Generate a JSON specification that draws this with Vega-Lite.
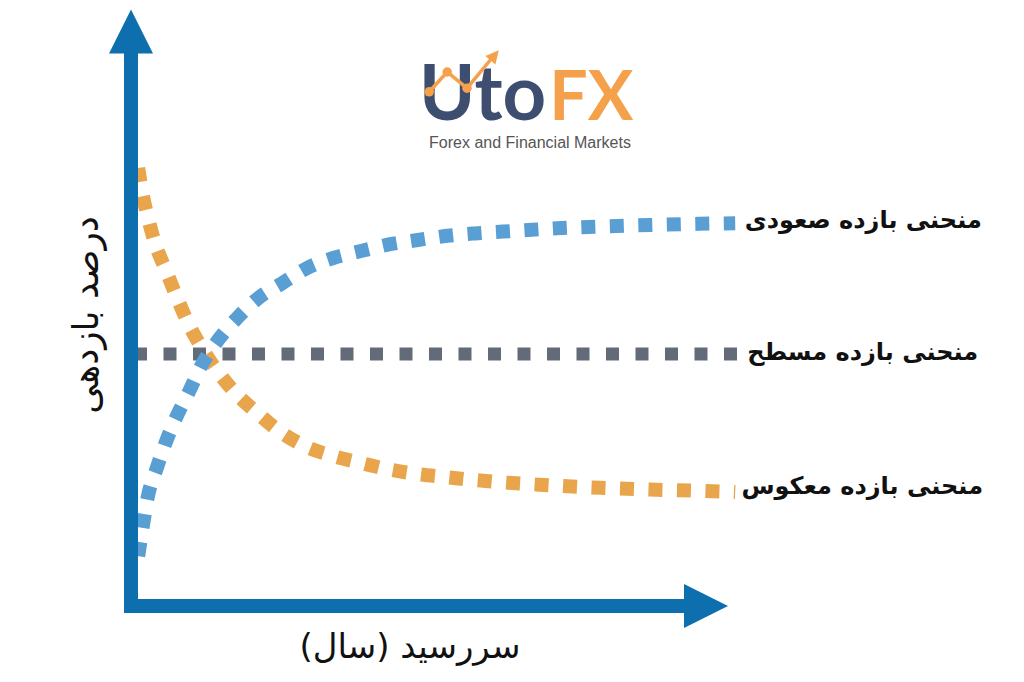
{
  "$schema": "https://vega.github.io/schema/vega-lite/v6.json",
  "width": 1024,
  "height": 682,
  "autosize": {"type": "fit", "contains": "padding"},
  "padding": 0,
  "background": "white",
  "config": {"view": {"stroke": null}},
  "datasets": {
    "rising": [
      {"x": 1.2, "y": 8.3}, {"x": 2.0, "y": 13.5}, {"x": 2.8, "y": 18.2}, {"x": 4.3, "y": 23.0},
      {"x": 5.8, "y": 27.3}, {"x": 7.7, "y": 31.8}, {"x": 9.8, "y": 36.0}, {"x": 11.8, "y": 40.2},
      {"x": 14.5, "y": 44.3}, {"x": 17.7, "y": 48.0}, {"x": 21.2, "y": 51.3}, {"x": 25.2, "y": 53.8},
      {"x": 29.3, "y": 56.3}, {"x": 33.7, "y": 58.0}, {"x": 38.5, "y": 59.2}, {"x": 43.2, "y": 60.3},
      {"x": 47.8, "y": 61.0}, {"x": 52.7, "y": 61.7}, {"x": 57.3, "y": 62.1}, {"x": 62.0, "y": 62.4},
      {"x": 66.8, "y": 62.7}, {"x": 71.8, "y": 63.0}, {"x": 78.2, "y": 63.25}, {"x": 86.5, "y": 63.5},
      {"x": 94.8, "y": 63.7}, {"x": 100.7, "y": 63.8}
    ],
    "inverted": [
      {"x": 1.2, "y": 73.0}, {"x": 1.8, "y": 69.3}, {"x": 2.8, "y": 64.8}, {"x": 4.0, "y": 60.5},
      {"x": 5.8, "y": 56.0}, {"x": 7.7, "y": 51.3}, {"x": 9.5, "y": 47.2}, {"x": 12.0, "y": 42.7},
      {"x": 14.5, "y": 39.0}, {"x": 17.7, "y": 35.2}, {"x": 21.0, "y": 32.2}, {"x": 25.2, "y": 28.8},
      {"x": 29.3, "y": 26.5}, {"x": 33.7, "y": 25.0}, {"x": 38.5, "y": 23.8}, {"x": 42.8, "y": 22.8},
      {"x": 47.7, "y": 22.0}, {"x": 52.3, "y": 21.5}, {"x": 57.2, "y": 21.0}, {"x": 62.0, "y": 20.6},
      {"x": 66.8, "y": 20.3}, {"x": 71.8, "y": 20.0}, {"x": 78.2, "y": 19.7}, {"x": 86.5, "y": 19.4},
      {"x": 94.8, "y": 19.2}, {"x": 100.7, "y": 19.0}
    ],
    "flat": [
      {"x": 0.5, "y": 42.0}, {"x": 101.5, "y": 42.0}
    ],
    "axes": [
      {"x": 0, "y": 93, "o": 1}, {"x": 0, "y": 0, "o": 2}, {"x": 93, "y": 0, "o": 3}
    ],
    "arrowUp": [{"x": 0, "y": 95.75}],
    "arrowRight": [{"x": 95.83, "y": 0}],
    "labels": [
      {"x": 141.8, "y": 64.2, "t": "منحنی بازده صعودی"},
      {"x": 141.2, "y": 42.2, "t": "منحنی بازده مسطح"},
      {"x": 142.0, "y": 19.9, "t": "منحنی بازده معکوس"}
    ],
    "xtitle": [{"x": 46.5, "y": -7.0, "t": "سررسید (سال)‏"}],
    "ytitle": [{"x": -7.3, "y": 48.5, "t": "درصد بازدهی"}],
    "logoUto": [{"x": 69.2, "y": 81.0, "t": "Uto"}],
    "logoFX": [{"x": 69.7, "y": 81.0, "t": "FX"}],
    "logoSub": [{"x": 66.5, "y": 77.2, "t": "Forex and Financial Markets"}],
    "logoTrend": [
      {"x": 49.7, "y": 85.7, "o": 1}, {"x": 52.7, "y": 89.0, "o": 2}, {"x": 56.0, "y": 86.3, "o": 3}, {"x": 60.3, "y": 91.5, "o": 4}
    ],
    "logoDots": [
      {"x": 49.7, "y": 85.7}, {"x": 52.7, "y": 89.0}, {"x": 56.0, "y": 86.3}
    ],
    "logoArrow": [{"x": 60.6, "y": 91.8}]
  },
  "encoding": {
    "x": {"field": "x", "type": "quantitative", "scale": {"domain": [-21.833, 148.833], "nice": false, "zero": false}, "axis": null},
    "y": {"field": "y", "type": "quantitative", "scale": {"domain": [-12.667, 101], "nice": false, "zero": false}, "axis": null}
  },
  "layer": [
    {
      "data": {"name": "flat"},
      "mark": {"type": "line", "color": "#646B78", "strokeWidth": 13, "strokeDash": [13, 16.5], "strokeCap": "butt"}
    },
    {
      "data": {"name": "inverted"},
      "mark": {"type": "line", "color": "#E9A54B", "strokeWidth": 14, "strokeDash": [14, 14.5], "strokeCap": "butt", "interpolate": "monotone"}
    },
    {
      "data": {"name": "rising"},
      "mark": {"type": "line", "color": "#5A9FD4", "strokeWidth": 14, "strokeDash": [14, 14.5], "strokeCap": "butt", "interpolate": "monotone"}
    },
    {
      "data": {"name": "axes"},
      "mark": {"type": "line", "color": "#0E6FAE", "strokeWidth": 14, "strokeJoin": "miter", "strokeCap": "butt"},
      "encoding": {"order": {"field": "o", "type": "quantitative"}}
    },
    {
      "data": {"name": "arrowUp"},
      "mark": {"type": "point", "shape": "M0,-1L1,1L-1,1Z", "size": 1936, "filled": true, "color": "#0E6FAE", "opacity": 1}
    },
    {
      "data": {"name": "arrowRight"},
      "mark": {"type": "point", "shape": "M1,0L-1,-1L-1,1Z", "size": 1936, "filled": true, "color": "#0E6FAE", "opacity": 1}
    },
    {
      "data": {"name": "labels"},
      "mark": {"type": "text", "align": "right", "baseline": "middle", "font": "DejaVu Sans", "fontWeight": "bold", "fontSize": 24, "color": "#111111"},
      "encoding": {"text": {"field": "t"}}
    },
    {
      "data": {"name": "xtitle"},
      "mark": {"type": "text", "align": "center", "baseline": "middle", "font": "DejaVu Sans", "fontSize": 34, "color": "#111111"},
      "encoding": {"text": {"field": "t"}}
    },
    {
      "data": {"name": "ytitle"},
      "mark": {"type": "text", "align": "center", "baseline": "middle", "angle": 270, "font": "DejaVu Sans", "fontSize": 36, "color": "#111111"},
      "encoding": {"text": {"field": "t"}}
    },
    {
      "data": {"name": "logoUto"},
      "mark": {"type": "text", "align": "right", "baseline": "alphabetic", "font": "Lato", "fontWeight": "bold", "fontSize": 76, "color": "#3E4E70"},
      "encoding": {"text": {"field": "t"}}
    },
    {
      "data": {"name": "logoFX"},
      "mark": {"type": "text", "align": "left", "baseline": "alphabetic", "font": "Lato", "fontWeight": "bold", "fontSize": 68, "color": "#F5A14C"},
      "encoding": {"text": {"field": "t"}}
    },
    {
      "data": {"name": "logoSub"},
      "mark": {"type": "text", "align": "center", "baseline": "middle", "font": "Liberation Sans", "fontSize": 16, "color": "#555555"},
      "encoding": {"text": {"field": "t"}}
    },
    {
      "data": {"name": "logoTrend"},
      "mark": {"type": "line", "color": "#F5A14C", "strokeWidth": 3.5},
      "encoding": {"order": {"field": "o", "type": "quantitative"}}
    },
    {
      "data": {"name": "logoDots"},
      "mark": {"type": "point", "shape": "circle", "size": 90, "filled": true, "color": "#F5A14C", "opacity": 1}
    },
    {
      "data": {"name": "logoArrow"},
      "mark": {"type": "point", "shape": "M0,-1L1,1L-1,1Z", "size": 170, "filled": true, "angle": 40, "color": "#F5A14C", "opacity": 1}
    }
  ]
}
